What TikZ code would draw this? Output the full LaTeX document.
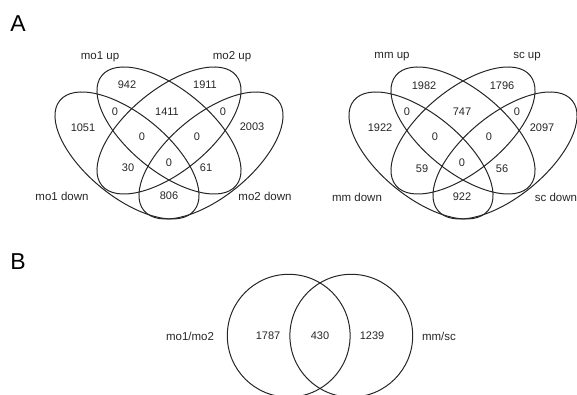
\documentclass[tikz,border=0pt]{standalone}
\usepackage{fontspec}
\setmainfont{Liberation Sans}
\begin{document}
\begin{tikzpicture}[x=1pt,y=1pt,
  venn/.style={draw=black!85, line width=1pt},
  num/.style={font=\fontsize{11}{13}\selectfont, inner sep=0pt, text=black!85},
  setlab/.style={font=\fontsize{11.5}{13}\selectfont, inner sep=0pt, text=black!85},
  panel/.style={font=\fontsize{23}{26}\selectfont, inner sep=0pt}]
\useasboundingbox (0,0) rectangle (577,395);
% panel letters
\node[panel] (pA) at (18,371) {A};
\node[panel] (pB) at (18,133) {B};
% ---------- left four-set diagram ----------
\draw[venn] (169,264.5) ellipse [x radius=86.8, y radius=41.1, rotate=-39.3]; % mo1 up
\draw[venn] (169,264.5) ellipse [x radius=86.8, y radius=41.1, rotate=39.3];  % mo2 up
\draw[venn] (127,239.5) ellipse [x radius=86.8, y radius=41.1, rotate=-39.3]; % mo1 down
\draw[venn] (211,239.5) ellipse [x radius=86.8, y radius=41.1, rotate=39.3];  % mo2 down
\node[setlab] (l1) at (100,338) {mo1 up};
\node[setlab] (l2) at (232,338) {mo2 up};
\node[setlab] (l3) at (62,199) {mo1 down};
\node[setlab] (l4) at (265,199) {mo2 down};
\node[num] (a1) at (127,310) {942};
\node[num] (a2) at (205,310) {1911};
\node[num] (a3) at (115,283) {0};
\node[num] (a4) at (167,283) {1411};
\node[num] (a5) at (223,283) {0};
\node[num] (a6) at (83,267) {1051};
\node[num] (a7) at (252,268) {2003};
\node[num] (a8) at (142,258) {0};
\node[num] (a9) at (197,258) {0};
\node[num] (a10) at (128,227) {30};
\node[num] (a11) at (169,232) {0};
\node[num] (a12) at (206,227) {61};
\node[num] (a13) at (169,199) {806};
% ---------- right four-set diagram ----------
\draw[venn] (463,264.5) ellipse [x radius=86.8, y radius=41.1, rotate=-39.3]; % mm up
\draw[venn] (463,264.5) ellipse [x radius=86.8, y radius=41.1, rotate=39.3];  % sc up
\draw[venn] (421,239.5) ellipse [x radius=86.8, y radius=41.1, rotate=-39.3]; % mm down
\draw[venn] (505,239.5) ellipse [x radius=86.8, y radius=41.1, rotate=39.3];  % sc down
\node[setlab] (r1) at (392,338) {mm up};
\node[setlab] (r2) at (527,338) {sc up};
\node[setlab] (r3) at (357,198) {mm down};
\node[setlab] (r4) at (556,198) {sc down};
\node[num] (b1) at (424,309) {1982};
\node[num] (b2) at (502,309) {1796};
\node[num] (b3) at (407,283) {0};
\node[num] (b4) at (462,283) {747};
\node[num] (b5) at (517,283) {0};
\node[num] (b6) at (380,267) {1922};
\node[num] (b7) at (542,267) {2097};
\node[num] (b8) at (435,258) {0};
\node[num] (b9) at (489,258) {0};
\node[num] (b10) at (422,226) {59};
\node[num] (b11) at (462,232) {0};
\node[num] (b12) at (502,226) {56};
\node[num] (b13) at (462,198) {922};
% ---------- two-set diagram ----------
\draw[venn] (288.7,59.3) circle [radius=61.4];
\draw[venn] (351.3,59.3) circle [radius=61.4];
\node[setlab] (c1) at (190,59) {mo1/mo2};
\node[setlab] (c2) at (439,59) {mm/sc};
\node[num] (c3) at (268,59) {1787};
\node[num] (c4) at (320,59) {430};
\node[num] (c5) at (372,59) {1239};
\end{tikzpicture}
\end{document}
